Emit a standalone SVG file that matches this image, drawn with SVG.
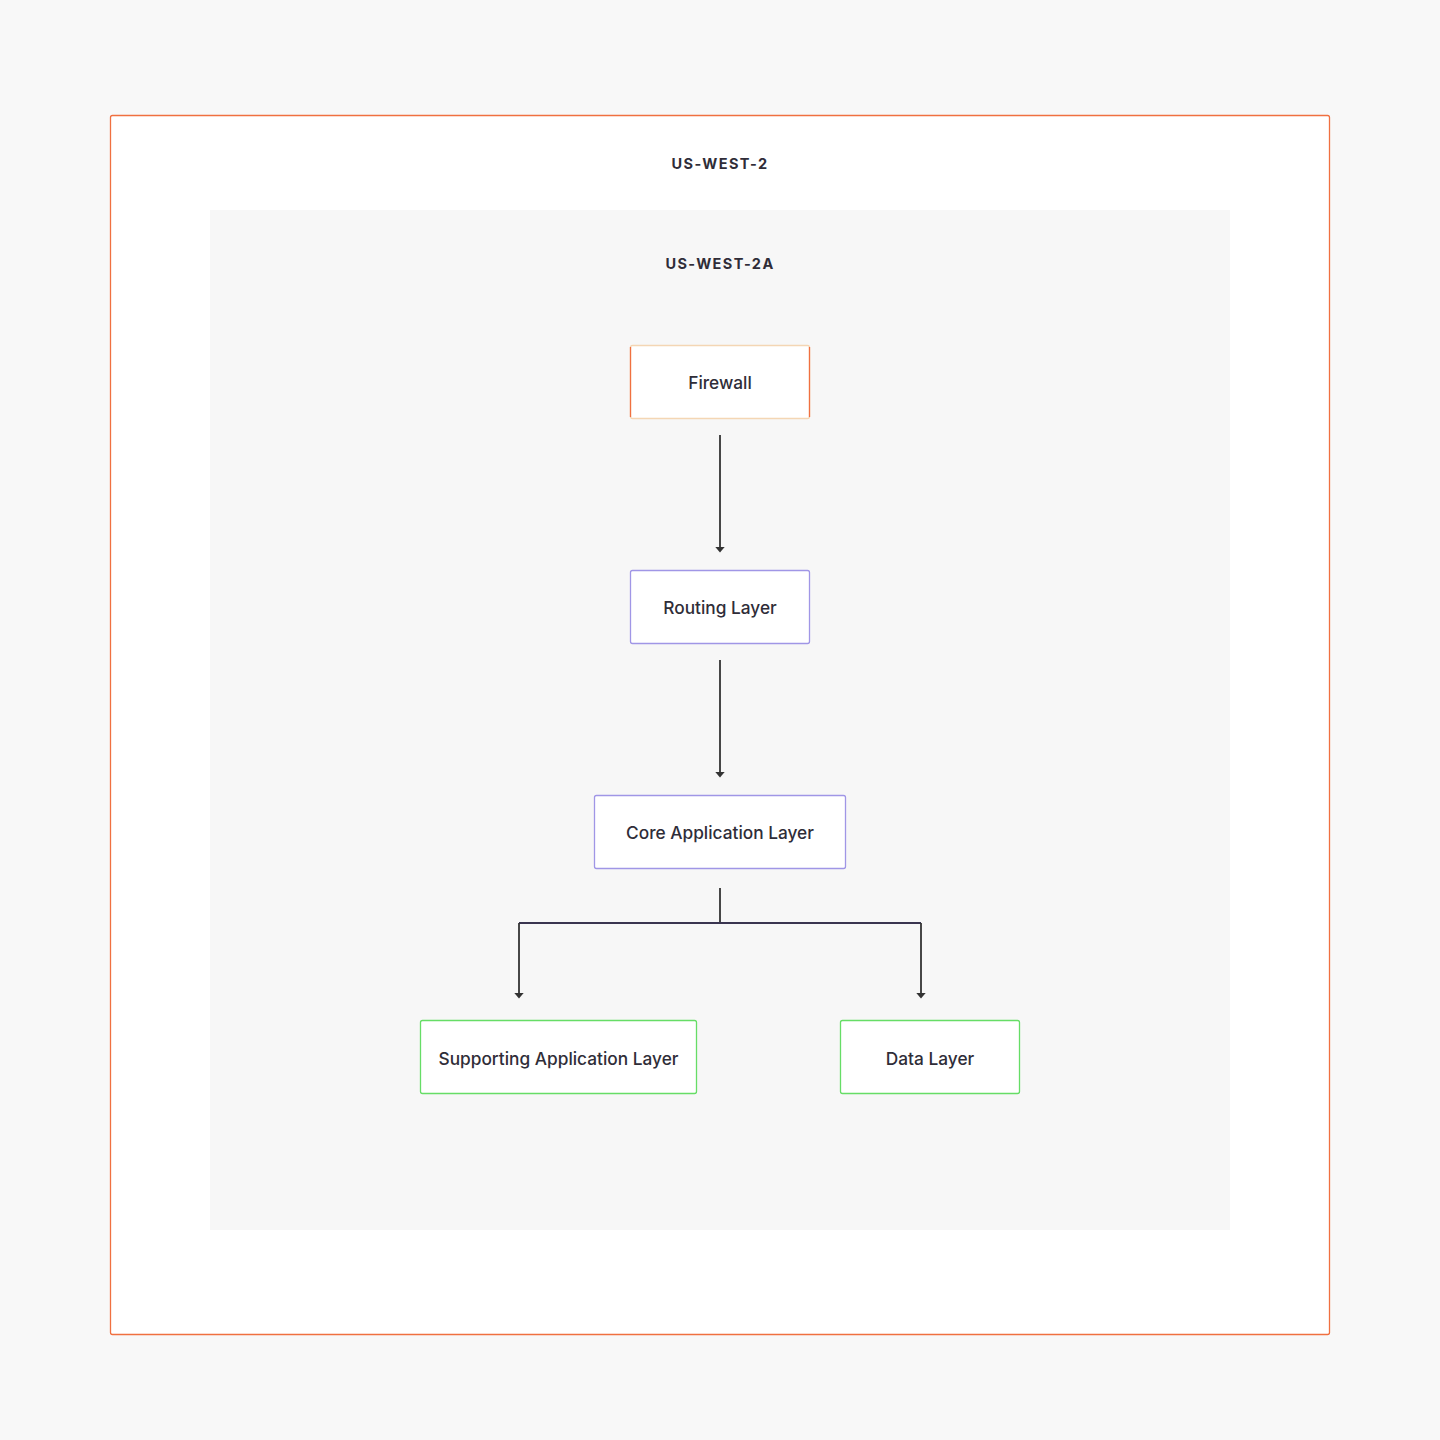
<svg xmlns="http://www.w3.org/2000/svg" width="1440" height="1440" viewBox="0 0 1440 1440">
<style>
.title{font-family:Inter,"Liberation Sans",sans-serif;font-size:14.5px;font-weight:700;letter-spacing:1.4px;fill:#2f2d38;text-anchor:middle}
.lbl{font-family:Inter,"Liberation Sans",sans-serif;font-size:17.3px;font-weight:500;fill:#2f2d38;text-anchor:middle}
.node{fill:#ffffff;stroke-width:1.3}
.edge{fill:none;stroke:#333333;stroke-width:1.8}
</style>
<defs>
<marker id="arr" viewBox="0 0 10 10" refX="4" refY="5" markerWidth="6" markerHeight="10" preserveAspectRatio="none" markerUnits="userSpaceOnUse" orient="auto">
<path d="M0,0 L10,5 L0,10 z" fill="#333333"/>
</marker>
</defs>
<rect x="0" y="0" width="1440" height="1440" fill="#f8f8f8"/>
<g id="us-west-2">
<rect x="110.5" y="115.5" width="1219" height="1219" rx="2" fill="#ffffff" stroke="#f07040" stroke-width="1.3"/>
<text class="title" x="720" y="169">US-WEST-2</text>
</g>
<g id="us-west-2a">
<rect x="210" y="210" width="1020" height="1020" fill="#f7f7f7"/>
<text class="title" x="720" y="269">US-WEST-2A</text>
</g>
<g id="connectors">
<path class="edge" d="M720,435 V549" marker-end="url(#arr)"/>
<path class="edge" d="M720,660 V774" marker-end="url(#arr)"/>
<path class="edge" d="M720,888 V923"/>
<path d="M519,923 H921" fill="none" stroke="#3a3550" stroke-width="2"/>
<path class="edge" d="M519,923 V995" marker-end="url(#arr)"/>
<path class="edge" d="M921,923 V995" marker-end="url(#arr)"/>
</g>
<g id="firewall">
<rect class="node" x="630.5" y="345.5" width="179" height="73" rx="2" stroke="#f4d6b4"/>
<path d="M630.5,347 V417 M809.5,347 V417" stroke="#f07040" stroke-width="1.3"/>
<text class="lbl" x="720" y="389">Firewall</text>
</g>
<g id="routing-layer">
<rect class="node" x="630.5" y="570.5" width="179" height="73" rx="2" stroke="#a096e6"/>
<text class="lbl" x="720" y="614">Routing Layer</text>
</g>
<g id="core-application-layer">
<rect class="node" x="594.5" y="795.5" width="251" height="73" rx="2" stroke="#a096e6"/>
<text class="lbl" x="720" y="839">Core Application Layer</text>
</g>
<g id="supporting-application-layer">
<rect class="node" x="420.5" y="1020.5" width="276" height="73" rx="2" stroke="#66dd66"/>
<text class="lbl" x="558.5" y="1065">Supporting Application Layer</text>
</g>
<g id="data-layer">
<rect class="node" x="840.5" y="1020.5" width="179" height="73" rx="2" stroke="#66dd66"/>
<text class="lbl" x="930" y="1065">Data Layer</text>
</g>
</svg>
